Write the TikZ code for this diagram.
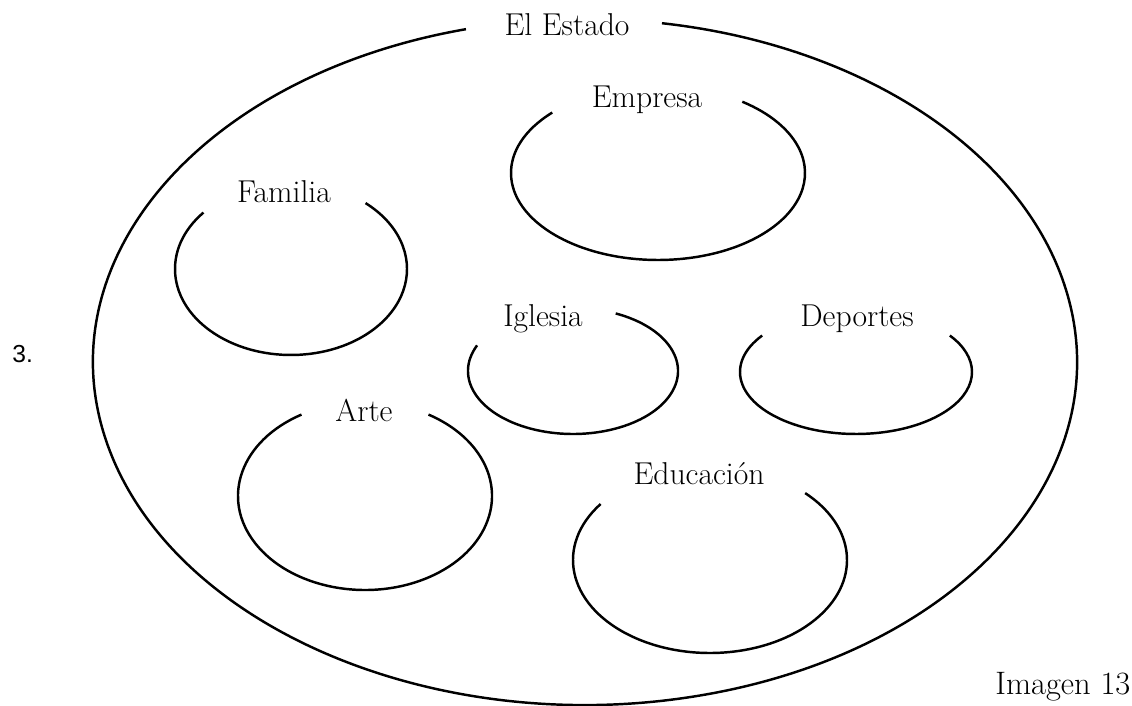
\documentclass[tikz,border=0pt]{standalone}
\usepackage{fontspec}
\newfontfamily\numfont{Liberation Sans}
\usepackage{tikz}

\begin{document}
\begin{tikzpicture}[x=0.02cm, y=0.02cm,
  rim/.style={line width=1.4pt},
  word/.style={anchor=base, font=\fontsize{18}{20}\selectfont}]
\useasboundingbox (0,0) rectangle (1132,706);

% labels
\node[word] (estado) at (567,670) {El Estado};
\node[word] (empresa) at (647,598) {Empresa};
\node[word] (familia) at (284,503) {Familia};
\node[word] (iglesia) at (543,379) {Iglesia};
\node[word] (deportes) at (857,379) {Deportes};
\node[word] (arte) at (364,284) {Arte};
\node[word] (educacion) at (699,221) {Educación};
\node[anchor=base west, inner sep=0pt, font=\numfont\fontsize{14}{16}\selectfont] (num) at (12,343) {3.};
\node[anchor=base west, inner sep=0pt, font=\fontsize{18.5}{20}\selectfont] (imagen) at (995,11) {Imagen 13};

% open rings
\path[draw,rim] (585,344) ++(104:492 and 343) arc[start angle=104, end angle=441, x radius=492, y radius=343];
\path[draw,rim] (658,533) ++(136:147 and 87) arc[start angle=136, end angle=415, x radius=147, y radius=87];
\path[draw,rim] (291,437) ++(139:116 and 86) arc[start angle=139, end angle=410, x radius=116, y radius=86];
\path[draw,rim] (573,335) ++(156:105 and 63) arc[start angle=156, end angle=426, x radius=105, y radius=63];
\path[draw,rim] (856,334) ++(144:116 and 62) arc[start angle=144, end angle=396, x radius=116, y radius=62];
\path[draw,rim] (365,210) ++(120:127 and 94) arc[start angle=120, end angle=420, x radius=127, y radius=94];
\path[draw,rim] (710,146) ++(143:137 and 93) arc[start angle=143, end angle=406, x radius=137, y radius=93];
\end{tikzpicture}
\end{document}
